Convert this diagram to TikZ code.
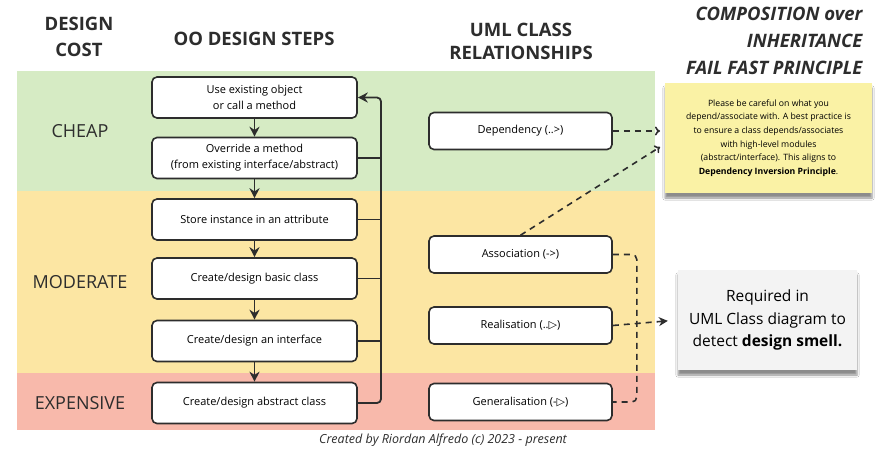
\documentclass[tikz,border=0pt]{standalone}
\usepackage{fontspec}
\setmainfont{Open Sans}
\newfontfamily\symfont{DejaVu Sans}
\usetikzlibrary{arrows.meta,shadows.blur}
\definecolor{cheapband}{RGB}{214,235,196}
\definecolor{moderateband}{RGB}{252,230,163}
\definecolor{expensiveband}{RGB}{248,185,171}
\definecolor{boxline}{RGB}{45,45,45}
\definecolor{notey}{RGB}{250,242,165}
\definecolor{noteg}{RGB}{243,243,243}
\tikzstyle{stepbox} = [draw=boxline, fill=white, rounded corners=5pt, line width=1.6pt, minimum width=205pt, minimum height=41pt, align=center, font=\fontsize{11}{16}\selectfont]
\tikzstyle{relbox} = [draw=boxline, fill=white, rounded corners=5pt, line width=1.6pt, minimum width=183pt, minimum height=37pt, align=center, font=\fontsize{11}{16}\selectfont]
\tikzstyle{band} = [font=\fontsize{18}{20}\selectfont, text=boxline]
\tikzstyle{header} = [align=center, font=\fontsize{18.5}{26}\selectfont\bfseries, text=boxline]
\tikzstyle{arrow} = [-{Stealth[length=10pt,width=10pt]}, line width=1.8pt, draw=boxline]
\tikzstyle{line} = [line width=1.8pt, draw=boxline]
\tikzstyle{link} = [line width=1.6pt, draw=boxline, dash pattern=on 6pt off 5pt]
\tikzstyle{note} = [blur shadow={shadow xshift=0pt, shadow yshift=-5pt, shadow opacity=45}, align=center]

\begin{document}
\begin{tikzpicture}[x=1pt, y=-1pt]
	\useasboundingbox (0,0) rectangle (880,453);
	\fill[white] (0,0) rectangle (880,453);
	\fill[cheapband] (17,71) rectangle (655,191);
	\fill[moderateband] (17,191) rectangle (655,373);
	\fill[expensiveband] (17,373) rectangle (655,430);

	\node[header](costhead) at (79,37){DESIGN\\COST};
	\node[header](stephead) at (254,39){OO DESIGN STEPS};
	\node[header, font=\fontsize{18.5}{23}\selectfont\bfseries](relhead) at (521,41){UML CLASS\\RELATIONSHIPS};
	\node[header, anchor=east, align=right, font=\fontsize{18.5}{27}\selectfont\bfseries\itshape](principle) at (866,41){COMPOSITION over\\INHERITANCE\\FAIL FAST PRINCIPLE};

	\node[band](cheap) at (80,131){CHEAP};
	\node[band](moderate) at (80,282){MODERATE};
	\node[band](expensive) at (80,403){EXPENSIVE};

	\node[stepbox](useobj) at (254.5,97.5){Use existing object\\or call a method};
	\node[stepbox](override) at (254.5,158){Override a method\\(from existing interface/abstract)};
	\node[stepbox](store) at (254.5,219.5){Store instance in an attribute};
	\node[stepbox](basic) at (254.5,278.5){Create/design basic class};
	\node[stepbox](iface) at (254.5,341){Create/design an interface};
	\node[stepbox](abstract) at (254.5,403){Create/design abstract class};
	\draw[arrow](useobj) -- (override);
	\draw[arrow](override) -- (store);
	\draw[arrow](store) -- (basic);
	\draw[arrow](basic) -- (iface);
	\draw[arrow](iface) -- (abstract);
	% way back to the cheapest step
	\coordinate (back) at (381,97.5);
	\draw[arrow, rounded corners=4pt](abstract.east) -| (back) -- (useobj.east);
	\foreach \n in {override,store,basic,iface}
		\draw[line](\n.east) -- (\n.east -| back);

	\node[relbox](dep) at (520.5,131){Dependency (..>)};
	\node[relbox](assoc) at (520.5,254.5){Association (->)};
	\node[relbox](real) at (520.5,325.5){Realisation (..{\symfont ▷})};
	\node[relbox](general) at (520.5,402){Generalisation (-{\symfont ▷})};

	\node[note, fill=notey, minimum width=207pt, minimum height=110pt, font=\fontsize{8.7}{13.7}\selectfont](dipnote) at (768.5,138){Please be careful on what you\\depend/associate with. A best practice is\\to ensure a class depends/associates\\with high-level modules\\(abstract/interface). This aligns to\\\textbf{Dependency Inversion Principle}.};
	\node[note, fill=noteg, minimum width=179pt, minimum height=100pt, font=\fontsize{15.5}{22.5}\selectfont](smell) at (767.5,320){Required in\\UML Class diagram to\\detect \textbf{design smell.}};

	\coordinate (assocend) at (660,147);
	\draw[link, -{To[length=5pt,width=9pt]}](dep.east) -- (dep.east -| assocend);
	\draw[link, -{To[length=5pt,width=9pt]}](assoc.north) -- (assocend);
	\draw[link, rounded corners=5pt](assoc.east) -- ++(24,0) |- (general.east);
	\draw[link, -{Stealth[length=9pt,width=9pt]}, shorten >=10pt](real.east) -- (smell.west);

	\node[font=\fontsize{12.5}{14}\selectfont\itshape, text=boxline](credit) at (443,440){Created by Riordan Alfredo (c) 2023 - present};
\end{tikzpicture}
\end{document}
